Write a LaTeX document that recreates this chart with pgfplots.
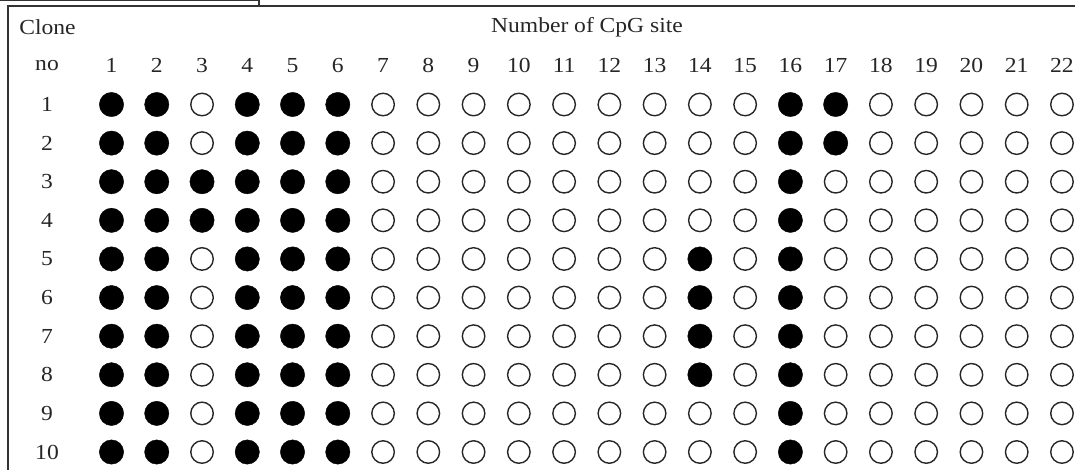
\documentclass[border=0pt]{standalone}
\usepackage{pgfplots}
\pgfplotsset{compat=1.18}
\usepackage{fontspec}
\setmainfont[FakeStretch=1.1]{Liberation Serif}
\begin{document}
\begin{tikzpicture}[every node/.style={font=\fontsize{21.5}{25}\selectfont, text=black!85}]
\useasboundingbox (0,0) rectangle (1075bp,470bp);
\begin{axis}[
  scale only axis, width=1075bp, height=470bp,
  xmin=-1.4635, xmax=22.288, ymin=-1.7066, ymax=10.466,
  y dir=reverse, hide axis, clip=false,
]
% methylated (filled)
\addplot[only marks, mark=*, mark size=12.2pt, mark options={fill=black, draw=black}] coordinates {
(1,1)(2,1)(4,1)(5,1)(6,1)(16,1)(17,1)
(1,2)(2,2)(4,2)(5,2)(6,2)(16,2)(17,2)
(1,3)(2,3)(3,3)(4,3)(5,3)(6,3)(16,3)
(1,4)(2,4)(3,4)(4,4)(5,4)(6,4)(16,4)
(1,5)(2,5)(4,5)(5,5)(6,5)(14,5)(16,5)
(1,6)(2,6)(4,6)(5,6)(6,6)(14,6)(16,6)
(1,7)(2,7)(4,7)(5,7)(6,7)(14,7)(16,7)
(1,8)(2,8)(4,8)(5,8)(6,8)(14,8)(16,8)
(1,9)(2,9)(4,9)(5,9)(6,9)(16,9)
(1,10)(2,10)(4,10)(5,10)(6,10)(16,10)
};
% unmethylated (open)
\addplot[only marks, mark=o, mark size=11.3pt, mark options={draw=black!85, line width=1.4pt, fill=white}] coordinates {
(3,1)(7,1)(8,1)(9,1)(10,1)(11,1)(12,1)(13,1)(14,1)(15,1)(18,1)(19,1)(20,1)(21,1)(22,1)
(3,2)(7,2)(8,2)(9,2)(10,2)(11,2)(12,2)(13,2)(14,2)(15,2)(18,2)(19,2)(20,2)(21,2)(22,2)
(7,3)(8,3)(9,3)(10,3)(11,3)(12,3)(13,3)(14,3)(15,3)(17,3)(18,3)(19,3)(20,3)(21,3)(22,3)
(7,4)(8,4)(9,4)(10,4)(11,4)(12,4)(13,4)(14,4)(15,4)(17,4)(18,4)(19,4)(20,4)(21,4)(22,4)
(3,5)(7,5)(8,5)(9,5)(10,5)(11,5)(12,5)(13,5)(15,5)(17,5)(18,5)(19,5)(20,5)(21,5)(22,5)
(3,6)(7,6)(8,6)(9,6)(10,6)(11,6)(12,6)(13,6)(15,6)(17,6)(18,6)(19,6)(20,6)(21,6)(22,6)
(3,7)(7,7)(8,7)(9,7)(10,7)(11,7)(12,7)(13,7)(15,7)(17,7)(18,7)(19,7)(20,7)(21,7)(22,7)
(3,8)(7,8)(8,8)(9,8)(10,8)(11,8)(12,8)(13,8)(15,8)(17,8)(18,8)(19,8)(20,8)(21,8)(22,8)
(3,9)(7,9)(8,9)(9,9)(10,9)(11,9)(12,9)(13,9)(14,9)(15,9)(17,9)(18,9)(19,9)(20,9)(21,9)(22,9)
(3,10)(7,10)(8,10)(9,10)(10,10)(11,10)(12,10)(13,10)(14,10)(15,10)(17,10)(18,10)(19,10)(20,10)(21,10)(22,10)
};
% frame
\draw[black!80, line width=1.5pt] (axis cs:-1.287,10.6) -- (axis cs:-1.287,-1.551) -- (axis cs:22.4,-1.551);
\draw[black!80, line width=1.5pt] (axis cs:-1.6,-1.694) -- (axis cs:4.259,-1.694) -- (axis cs:4.259,-1.551);
% headings
\node at (axis cs:-0.414,-1.007) {Clone};
\node at (axis cs:11.506,-1.007) {Number of CpG site};
\node at (axis cs:-0.425,0) {no};
\pgfplotsinvokeforeach{1,...,22}{\node at (axis cs:#1,0) {#1};}
\pgfplotsinvokeforeach{1,...,10}{\node at (axis cs:-0.425,#1) {#1};}
\end{axis}
\end{tikzpicture}
\end{document}
